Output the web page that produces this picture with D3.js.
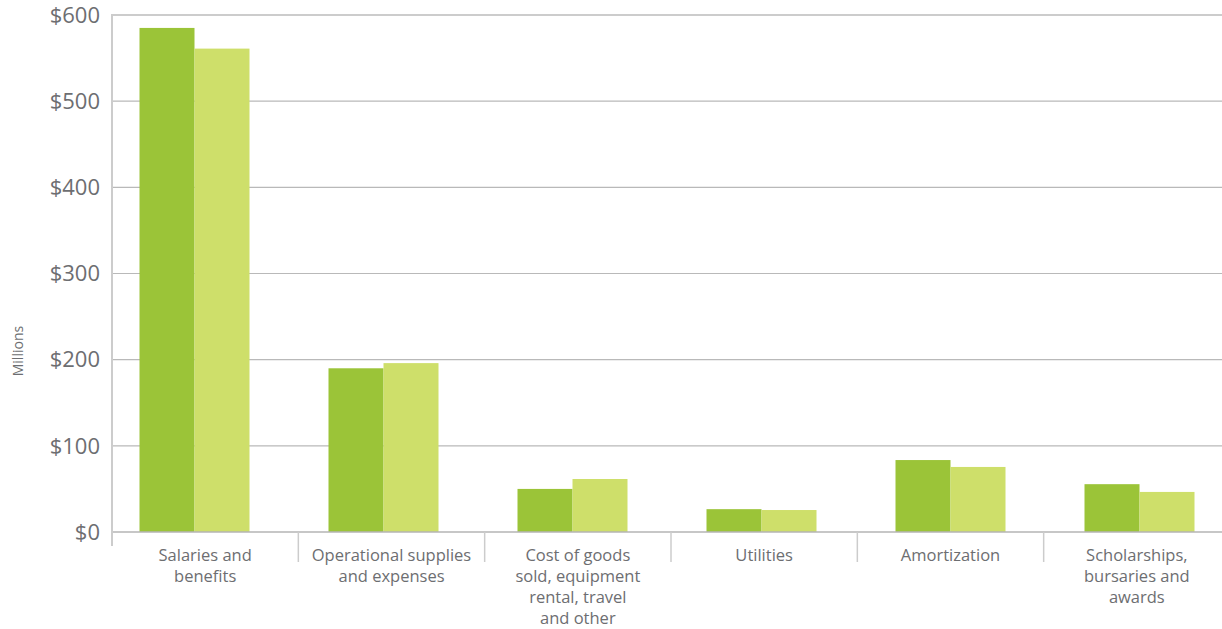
<!DOCTYPE html>
<html>
<head>
<meta charset="utf-8">
<script src="https://cdn.jsdelivr.net/npm/d3@7"></script>
<style>
  body { margin: 0; background: #fff; }
  text { font-family: "Open Sans", "Noto Sans", sans-serif; fill: #6d6e71; }
</style>
</head>
<body>
<script>
// data (millions)
var categories = ['Salaries and benefits', 'Operational supplies and expenses',
    'Cost of goods sold, equipment rental, travel and other', 'Utilities',
    'Amortization', 'Scholarships, bursaries and awards'];
var categoryLines = [
    ['Salaries and', 'benefits'],
    ['Operational supplies', 'and expenses'],
    ['Cost of goods', 'sold, equipment', 'rental, travel', 'and other'],
    ['Utilities'],
    ['Amortization'],
    ['Scholarships,', 'bursaries and', 'awards']
];
var seriesA = [585, 190, 50, 26.5, 83.5, 55.5];
var seriesB = [561, 196, 61.5, 25.5, 75.5, 46.5];
var yTicks = [0, 100, 200, 300, 400, 500, 600];
var yTickLabels = ['$0', '$100', '$200', '$300', '$400', '$500', '$600'];

var svgWidth = 1222;
var svgHeight = 629;
var margin = { top: 15, bottom: 97, left: 112, right: 0 };
var chartHeight = svgHeight - margin.top - margin.bottom;

var svg = d3.select('body')
    .append('svg')
    .attr('width', svgWidth)
    .attr('height', svgHeight);

var yScale = d3.scaleLinear()
    .domain([0, 600])
    .range([margin.top + chartHeight, margin.top]);

// category bands for the axis, and a slightly shifted one for the bars
var xScale = d3.scaleBand()
    .domain(categories)
    .range([margin.left, 1230]);
var xBars = d3.scaleBand()
    .domain(categories)
    .range([100, 1234]);
var xSeries = d3.scaleBand()
    .domain(['a', 'b'])
    .range([0, 110]);

// gridlines
svg.append('g')
    .selectAll('line')
    .data(yTicks.filter(d => d > 0))
    .enter()
    .append('line')
    .attr('x1', margin.left)
    .attr('x2', svgWidth)
    .attr('y1', d => yScale(d))
    .attr('y2', d => yScale(d))
    .attr('stroke', d => d === 600 ? '#cccccc' : '#b9b9b9')
    .attr('stroke-width', d => d === 600 ? 2 : 1.2);

// y tick labels
svg.append('g')
    .selectAll('text')
    .data(yTicks)
    .enter()
    .append('text')
    .attr('x', 100)
    .attr('y', d => yScale(d))
    .attr('dy', '0.35em')
    .attr('text-anchor', 'end')
    .attr('font-size', '22px')
    .text((d, i) => yTickLabels[i]);

// bars
var groups = svg.append('g')
    .selectAll('g')
    .data(categories)
    .enter()
    .append('g')
    .attr('transform', d => `translate(${xBars(d) + xBars.bandwidth() / 2 - 55},0)`);

groups.append('rect')
    .attr('x', xSeries('a'))
    .attr('width', xSeries.bandwidth())
    .attr('y', (d, i) => yScale(seriesA[i]))
    .attr('height', (d, i) => yScale(0) - yScale(seriesA[i]))
    .attr('fill', '#9bc438');

groups.append('rect')
    .attr('x', xSeries('b'))
    .attr('width', xSeries.bandwidth())
    .attr('y', (d, i) => yScale(seriesB[i]))
    .attr('height', (d, i) => yScale(0) - yScale(seriesB[i]))
    .attr('fill', '#cedf6a');

// axes lines
svg.append('line')
    .attr('x1', margin.left).attr('x2', svgWidth)
    .attr('y1', yScale(0)).attr('y2', yScale(0))
    .attr('stroke', '#b4b4b4').attr('stroke-width', 1.5);

svg.append('line')
    .attr('x1', margin.left).attr('x2', margin.left)
    .attr('y1', yScale(600) - 1).attr('y2', yScale(0) + 14)
    .attr('stroke', '#cccccc').attr('stroke-width', 2);

// category dividers
svg.append('g')
    .selectAll('line')
    .data(categories.slice(1))
    .enter()
    .append('line')
    .attr('x1', d => xScale(d))
    .attr('x2', d => xScale(d))
    .attr('y1', yScale(0))
    .attr('y2', yScale(0) + 30)
    .attr('stroke', '#cccccc')
    .attr('stroke-width', 1.5);

// category labels
var labels = svg.append('g')
    .selectAll('text')
    .data(categories)
    .enter()
    .append('text')
    .attr('text-anchor', 'middle')
    .attr('font-size', '16.5px')
    .attr('x', d => xScale(d) + xScale.bandwidth() / 2)
    .attr('y', 561);

labels.selectAll('tspan')
    .data((d, i) => categoryLines[i])
    .enter()
    .append('tspan')
    .attr('x', function() { return d3.select(this.parentNode).attr('x'); })
    .attr('dy', (d, i) => i === 0 ? 0 : 21)
    .text(d => d);

// y axis title
svg.append('text')
    .attr('transform', `translate(23,${yScale(210)}) rotate(-90)`)
    .attr('text-anchor', 'middle')
    .attr('font-size', '14px')
    .text('Millions');
</script>
</body>
</html>
